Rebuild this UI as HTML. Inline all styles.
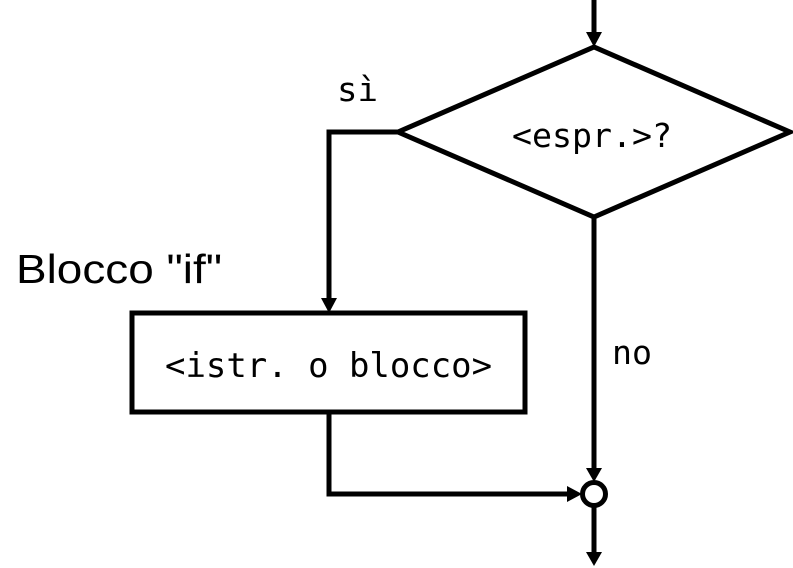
<!DOCTYPE html>
<html><head><meta charset="utf-8"><style>
html,body{margin:0;padding:0;background:#fff;}
svg{display:block;}
</style></head><body>
<svg width="793" height="568" viewBox="0 0 793 568" xmlns="http://www.w3.org/2000/svg">
<g stroke="#000" stroke-width="5" fill="none">
<line x1="594" y1="0" x2="594" y2="34"/>
<polygon points="398,132 594,47 790,132 594,217" fill="#fff" stroke-linejoin="miter"/>
<polyline points="398,132 329,132 329,300"/>
<rect x="132" y="313" width="393" height="99" fill="#fff"/>
<polyline points="329,412 329,494 568,494"/>
<line x1="594" y1="217" x2="594" y2="470"/>
<circle cx="594" cy="494" r="11.5" fill="#fff"/>
<line x1="594" y1="506" x2="594" y2="552"/>
</g>
<g fill="#000">
<polygon points="586,32 602,32 594,47"/>
<polygon points="321,298 337,298 329,313"/>
<polygon points="586,468 602,468 594,482"/>
<polygon points="567,486 567,502 582,494"/>
<polygon points="586,552 602,552 594,566"/>
</g>
<g font-family="'DejaVu Sans Mono','Liberation Mono',monospace" fill="#000">
<text x="337" y="101" font-size="33" textLength="41" lengthAdjust="spacingAndGlyphs">sì</text>
<text x="512" y="147" font-size="33" textLength="160" lengthAdjust="spacingAndGlyphs">&lt;espr.&gt;?</text>
<text x="165" y="377" font-size="34" textLength="327" lengthAdjust="spacingAndGlyphs">&lt;istr. o blocco&gt;</text>
<text x="612" y="364" font-size="33" textLength="40" lengthAdjust="spacingAndGlyphs">no</text>
</g>
<text x="16" y="283" font-family="'Liberation Sans Narrow','Liberation Sans',sans-serif" font-size="41" textLength="206" lengthAdjust="spacingAndGlyphs" fill="#000">Blocco "if"</text>
</svg>
</body></html>
